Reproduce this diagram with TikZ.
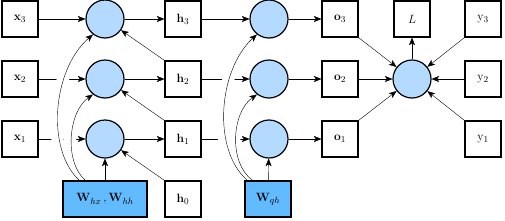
\documentclass[tikz,border=0pt]{standalone}
\usetikzlibrary{arrows.meta,backgrounds}
\definecolor{cfill}{RGB}{181,218,255}
\definecolor{wfill}{RGB}{99,187,255}
\begin{document}
\begin{tikzpicture}[x=1pt,y=-1pt,
  >={Stealth[length=7.5pt,width=6pt,inset=1.8pt]},
  line width=1.15pt,
  box/.style={draw, line width=1.2pt, minimum width=36pt, minimum height=36pt, inner sep=0pt, font=\fontsize{13}{15}\selectfont},
  circ/.style={circle, draw, line width=1.2pt, fill=cfill, minimum size=38pt, inner sep=0pt},
  wbox/.style={box, fill=wfill},
  conn/.style={->},
  halo/.style={draw=white, line width=12pt, shorten <=8pt, shorten >=8pt}]
\useasboundingbox (0,0) rectangle (505,220);
% input boxes
\node[box] (x3) at (20,19) {$\mathbf{x}_3$};
\node[box] (x2) at (20,79) {$\mathbf{x}_2$};
\node[box] (x1) at (20,139) {$\mathbf{x}_1$};
% first circles
\node[circ] (c3) at (105,19) {};
\node[circ] (c2) at (105,79) {};
\node[circ] (c1) at (105,139) {};
\node[wbox, minimum width=84pt] (W) at (105,199) {$\mathbf{W}_{hx}\,\mathbf{,}\,\mathbf{W}_{hh}$};
% hidden states
\node[box] (h3) at (183,19) {$\mathbf{h}_3$};
\node[box] (h2) at (183,79) {$\mathbf{h}_2$};
\node[box] (h1) at (183,139) {$\mathbf{h}_1$};
\node[box] (h0) at (183,199) {$\mathbf{h}_0$};
% second circles
\node[circ] (d3) at (269,19) {};
\node[circ] (d2) at (269,79) {};
\node[circ] (d1) at (269,139) {};
\node[wbox, minimum width=46pt] (Wq) at (268,199) {$\mathbf{W}_{qh}$};
% outputs
\node[box] (o3) at (340,19) {$\mathbf{o}_3$};
\node[box] (o2) at (340,79) {$\mathbf{o}_2$};
\node[box] (o1) at (340,139) {$\mathbf{o}_1$};
\node[box] (L) at (412,19) {$L$};
\node[circ] (big) at (412,79) {};
\node[box] (y3) at (483,19) {$\mathrm{y}_3$};
\node[box] (y2) at (483,79) {$\mathrm{y}_2$};
\node[box] (y1) at (483,139) {$\mathrm{y}_1$};

\begin{scope}[on background layer]
  % straight connectors
  \draw[conn] (x3) -- (c3);
  \draw[conn] (x2) -- (c2);
  \draw[conn] (x1) -- (c1);
  \draw[conn] (W) -- (c1);
  \draw[conn] (c3) -- (h3);
  \draw[conn] (c2) -- (h2);
  \draw[conn] (c1) -- (h1);
  \draw[conn] (h0.north west) -- (c1);
  \draw[conn] (h1.north west) -- (c2);
  \draw[conn] (h2.north west) -- (c3);
  \draw[conn] (h3) -- (d3);
  \draw[conn] (h2) -- (d2);
  \draw[conn] (h1) -- (d1);
  \draw[conn] (Wq) -- (d1);
  \draw[conn] (d3) -- (o3);
  \draw[conn] (d2) -- (o2);
  \draw[conn] (d1) -- (o1);
  \draw[conn] (o3.south east) -- (big);
  \draw[conn] (o2) -- (big);
  \draw[conn] (o1.north east) -- (big);
  \draw[conn] (y3.south west) -- (big);
  \draw[conn] (y2) -- (big);
  \draw[conn] (y1.north west) -- (big);
  \draw[conn] (big) -- (L);
  % halos that break the crossed lines
  \path[halo] ([xshift=17pt]W.north west) .. controls (46,150) and (52,70) .. (c3.232);
  \path[halo] ([xshift=23pt]W.north west) .. controls (64,162) and (68,112) .. (c2.232);
  \path[halo] ([xshift=3pt]Wq.north west) .. controls (212,150) and (218,70) .. (d3.232);
  \path[halo] ([xshift=8pt]Wq.north west) .. controls (228,162) and (232,112) .. (d2.232);
  % curved connectors
  \draw[conn] ([xshift=17pt]W.north west) .. controls (46,150) and (52,70) .. (c3.232);
  \draw[conn] ([xshift=23pt]W.north west) .. controls (64,162) and (68,112) .. (c2.232);
  \draw[conn] ([xshift=3pt]Wq.north west) .. controls (212,150) and (218,70) .. (d3.232);
  \draw[conn] ([xshift=8pt]Wq.north west) .. controls (228,162) and (232,112) .. (d2.232);
\end{scope}
\end{tikzpicture}
\end{document}
